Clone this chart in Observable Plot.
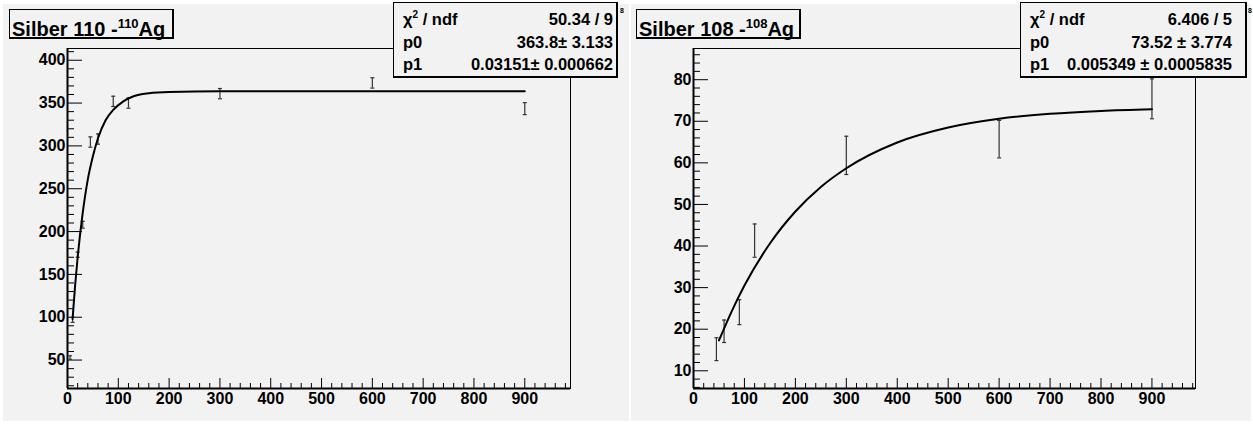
<!DOCTYPE html>
<html>
<head>
<meta charset="utf-8">
<script src="https://cdn.jsdelivr.net/npm/d3@7"></script>
<script src="https://cdn.jsdelivr.net/npm/@observablehq/plot@0.6"></script>
<style>
  body { margin: 0; background: #fff; width: 1253px; height: 425px; position: relative; overflow: hidden;
         font-family: "Liberation Sans", Arial, Helvetica, sans-serif; }
  .pad { position: absolute; background: #f2f2f2; }
  .chart { position: absolute; top: 0; }
  .title { position: absolute; box-sizing: border-box; background: #f2f2f2; border: 1px solid #000;
           border-right-width: 2px; border-bottom-width: 2px; font-weight: bold; font-size: 20px; color: #000;
           white-space: nowrap; line-height: 1; }
  .title span.t { position: absolute; left: 2px; bottom: -2px; }
  .title sup { font-size: 13px; vertical-align: 0; position: relative; top: -8px; }
  .stats { position: absolute; box-sizing: border-box; background: #f2f2f2; border: 1px solid #000;
           border-right-width: 2px; border-bottom-width: 2px; font-weight: bold; font-size: 16.5px; color: #000; }
  .row { position: absolute; left: 9px; display: flex; justify-content: space-between; white-space: nowrap; line-height: 1; }
  .row sup { font-size: 10px; position: relative; top: -7px; vertical-align: 0; }
  .mark8 { position: absolute; font-size: 7px; font-weight: bold; }
</style>
</head>
<body>
<div class="pad" style="left:3px; top:4px; width:626px; height:417px;"></div>
<div class="pad" style="left:631px; top:4px; width:620px; height:417px;"></div>
<div id="left" class="chart" style="left:0px;"></div>
<div id="right" class="chart" style="left:630px;"></div>
<script>
// ---------- Data: Silber 110 (110Ag) ----------
const ag110Title = "Silber 110 -";
const ag110Iso = "110";
const ag110X = [5, 10, 20, 30, 45, 60, 90, 120, 300, 600, 900];
const ag110Y = [53, 97, 173, 208, 304.5, 308, 352, 350, 361, 373.5, 343.5];
const ag110Err = [2, 3, 3, 4, 6, 6, 6, 6, 6, 6, 7];
const ag110FitX = [10, 15, 20, 30, 40, 50, 60, 75, 90, 110, 130, 160, 200, 300, 900];
const ag110FitY = [98, 137, 170, 222, 261, 288, 309, 330, 342, 352, 358, 361.5, 363, 363.7, 363.8];
const ag110Stats = [["χ2 / ndf", "50.34 / 9"], ["p0", "363.8± 3.133"], ["p1", "0.03151± 0.000662"]];
const ag110YTicks = [50, 100, 150, 200, 250, 300, 350, 400];

// ---------- Data: Silber 108 (108Ag) ----------
const ag108Title = "Silber 108 -";
const ag108Iso = "108";
const ag108X = [45, 60, 90, 120, 300, 600, 900];
const ag108Y = [15.2, 19.5, 24.1, 41.3, 61.8, 65.7, 75.4];
const ag108Err = [2.75, 2.7, 3.0, 4.0, 4.6, 4.5, 4.8];
const ag108FitX = [50, 75, 100, 150, 200, 250, 300, 400, 500, 600, 700, 800, 900];
const ag108FitY = [17.3, 24.3, 30.5, 40.6, 48.3, 54.2, 58.7, 64.9, 68.5, 70.6, 71.8, 72.5, 72.9];
const ag108Stats = [["χ2 / ndf", "6.406 / 5"], ["p0", "73.52 ± 3.774"], ["p1", "0.005349 ± 0.0005835"]];
const ag108YTicks = [10, 20, 30, 40, 50, 60, 70, 80];

const xTicks = [0, 100, 200, 300, 400, 500, 600, 700, 800, 900];
const xTickLabels = ["0", "100", "200", "300", "400", "500", "600", "700", "800", "900"];

const capSymbol = { draw(ctx) { ctx.moveTo(-2, 0); ctx.lineTo(2, 0); } };

function panel(cfg) {
  const W = cfg.width, H = 425, mt = 48, mb = 37;
  const plotW = W - cfg.ml - cfg.mr, plotH = H - mt - mb;
  const pts = cfg.x.map((x, i) => ({x, y: cfg.y[i], e: cfg.err[i]}));
  const fit = cfg.fitX.map((x, i) => ({x, y: cfg.fitY[i]}));
  const xMinor = d3.range(0, cfg.xDomain[1], 20).filter(v => v % 100 !== 0);
  const yMinor = d3.range(Math.ceil(cfg.yDomain[0] / cfg.yMinorStep) * cfg.yMinorStep, cfg.yDomain[1], cfg.yMinorStep)
    .filter(v => Math.abs(v / cfg.yMajorStep - Math.round(v / cfg.yMajorStep)) > 1e-6);
  return Plot.plot({
    width: W, height: H, marginLeft: cfg.ml, marginRight: cfg.mr, marginTop: mt, marginBottom: mb,
    x: {domain: cfg.xDomain},
    y: {domain: cfg.yDomain},
    style: {background: "transparent", color: "#000", fontFamily: "Liberation Sans, Arial, sans-serif", overflow: "visible"},
    marks: [
      Plot.ruleX(xMinor, {x: d => d, insetTop: plotH - 5, stroke: "#000"}),
      Plot.ruleX(xTicks, {x: d => d, insetTop: plotH - 10, stroke: "#000"}),
      Plot.ruleY(yMinor, {y: d => d, insetRight: plotW - 7, stroke: "#000"}),
      Plot.ruleY(cfg.yTicks, {y: d => d, insetRight: plotW - 15, stroke: "#000"}),
      Plot.frame({stroke: "#000", strokeWidth: 1}),
      Plot.ruleX([cfg.xDomain[0]], {x: d => d, stroke: "#000", strokeWidth: 2}),
      Plot.ruleY([cfg.yDomain[0]], {y: d => d, stroke: "#000", strokeWidth: 2}),
      Plot.axisX({ticks: xTicks, tickFormat: d => xTickLabels[xTicks.indexOf(d)], tickSize: 0, tickPadding: 4,
                  fontSize: 16, fontWeight: "bold", label: null}),
      Plot.axisY({ticks: cfg.yTicks, tickFormat: d => String(d), tickSize: 0, tickPadding: 2,
                  fontSize: 16, fontWeight: "bold", label: null}),
      Plot.ruleX(pts, {x: "x", y1: d => d.y - d.e, y2: d => d.y + d.e, stroke: "#333", strokeWidth: 1.2}),
      Plot.dot(pts, {x: "x", y: d => d.y - d.e, symbol: capSymbol, stroke: "#333", fill: "none", strokeWidth: 1.2}),
      Plot.dot(pts, {x: "x", y: d => d.y + d.e, symbol: capSymbol, stroke: "#333", fill: "none", strokeWidth: 1.2}),
      Plot.line(fit, {x: "x", y: "y", curve: "monotone-x", stroke: "#000", strokeWidth: 2})
    ]
  });
}

function addTitle(parent, left, text, iso) {
  const d = document.createElement("div");
  d.className = "title";
  Object.assign(d.style, {left: left + "px", top: "9px", width: "165px", height: "30px"});
  const s = document.createElement("span");
  s.className = "t";
  s.append(text);
  const sup = document.createElement("sup");
  sup.textContent = iso;
  s.append(sup, "Ag");
  d.append(s);
  parent.append(d);
}

function addStats(parent, left, width, padRight, stats) {
  const d = document.createElement("div");
  d.className = "stats";
  Object.assign(d.style, {left: left + "px", top: "2px", width: width + "px", height: "76px"});
  const tops = [8, 31, 53];
  stats.forEach(([k, v], i) => {
    const r = document.createElement("div");
    r.className = "row";
    r.style.top = tops[i] + "px";
    r.style.right = padRight + "px";
    const a = document.createElement("span");
    if (k.startsWith("χ2")) {
      a.append("χ");
      const sp = document.createElement("sup"); sp.textContent = "2"; a.append(sp, k.slice(2));
    } else a.textContent = k;
    const b = document.createElement("span");
    b.textContent = v;
    r.append(a, b);
    d.append(r);
  });
  parent.append(d);
}

document.getElementById("left").append(panel({
  width: 630, ml: 67, mr: 60, xDomain: [0, 990], yDomain: [16.8, 413.7],
  x: ag110X, y: ag110Y, err: ag110Err, fitX: ag110FitX, fitY: ag110FitY,
  yTicks: ag110YTicks, yMinorStep: 10, yMajorStep: 50
}));
document.getElementById("right").append(panel({
  width: 623, ml: 63, mr: 58, xDomain: [0, 985.5], yDomain: [5.74, 87.5],
  x: ag108X, y: ag108Y, err: ag108Err, fitX: ag108FitX, fitY: ag108FitY,
  yTicks: ag108YTicks, yMinorStep: 2, yMajorStep: 10
}));

addTitle(document.body, 9, ag110Title, ag110Iso);
addTitle(document.body, 636, ag108Title, ag108Iso);
addStats(document.body, 393, 225, 3, ag110Stats);
addStats(document.body, 1020, 227, 13, ag108Stats);
[[620, 7], [1248, 7]].forEach(([l, t]) => {
  const m = document.createElement("div");
  m.className = "mark8"; m.textContent = "8";
  m.style.left = l + "px"; m.style.top = t + "px";
  document.body.append(m);
});
</script>
</body>
</html>
